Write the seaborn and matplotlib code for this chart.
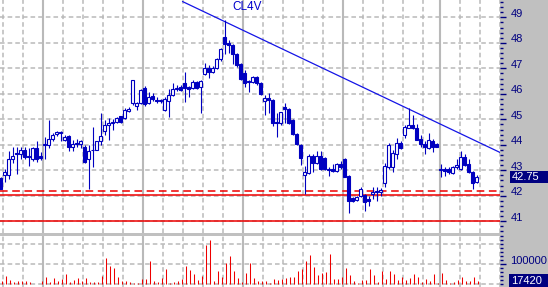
import numpy as np
import pandas as pd
import matplotlib
matplotlib.use("Agg")
import matplotlib.pyplot as plt
import seaborn as sns
from matplotlib.ticker import MultipleLocator
from matplotlib.transforms import ScaledTranslation, blended_transform_factory
from matplotlib.patches import Rectangle

# ---------------- data ----------------
opens = [42.68, 42.80, 42.80, 43.46, 43.66, 43.62, 43.78, 43.58, 43.46, 43.89,
         43.58, 43.99, 44.01, 44.24, 44.44, 44.52, 44.17, 44.36, 43.93, 44.09,
         44.05, 43.93, 43.43, 43.78, 43.81, 44.13, 44.56, 44.79, 44.87, 44.91,
         45.14, 45.06, 45.34, 45.65, 45.53, 45.65, 46.23, 45.65, 45.92, 45.76,
         45.73, 45.37, 45.73, 45.96, 46.19, 46.27, 46.43, 46.27, 46.23, 46.47,
         46.27, 46.78, 47.01, 46.86, 47.01, 47.36, 48.22, 47.99, 47.91, 47.56,
         47.17, 46.82, 46.49, 46.47, 46.66, 46.43, 45.73, 45.84, 45.76, 44.91,
         44.87, 45.49, 45.41, 44.98, 44.44, 44.01, 42.80, 42.88, 43.58, 43.27,
         43.58, 43.50, 43.07, 43.04, 42.96, 43.23, 43.43, 42.76, 41.90, 41.83,
         41.98, 42.02, 41.87, 42.06, 42.18, 42.14, 42.49, 43.11, 43.11, 43.62,
         44.09, 44.40, 44.67, 44.79, 44.67, 44.24, 44.05, 43.89, 44.13, 44.05,
         43.04, 43.04, 43.04, 42.88, 43.11, 43.07, 43.54, 43.23, 42.92, 42.53]
highs = [42.72, 43.04, 43.74, 43.93, 43.93, 43.93, 43.93, 43.89, 43.93, 44.13,
         43.70, 44.32, 44.98, 44.48, 44.56, 44.56, 44.40, 44.40, 44.20, 44.24,
         44.20, 44.01, 44.01, 44.71, 44.13, 45.26, 44.98, 45.06, 45.02, 45.10,
         45.14, 45.45, 45.49, 46.54, 45.69, 46.19, 46.31, 46.08, 46.04, 45.88,
         45.80, 45.88, 46.20, 46.43, 46.35, 46.35, 46.86, 46.31, 46.54, 46.51,
         46.54, 47.21, 47.13, 47.09, 47.40, 47.79, 48.88, 48.10, 47.95, 47.60,
         47.21, 46.93, 46.54, 46.70, 46.70, 46.47, 45.96, 46.04, 45.80, 45.26,
         45.30, 45.65, 45.45, 45.02, 44.48, 44.05, 43.15, 43.62, 43.62, 43.74,
         43.74, 43.54, 43.11, 43.23, 43.27, 43.35, 43.50, 42.80, 41.94, 41.98,
         42.33, 42.06, 41.98, 42.33, 42.33, 42.29, 43.27, 44.09, 43.81, 44.28,
         44.13, 44.79, 45.45, 45.18, 44.83, 44.40, 44.13, 44.48, 44.24, 44.09,
         43.23, 43.11, 43.11, 43.15, 43.43, 43.74, 43.62, 43.43, 42.96, 42.80]
lows = [42.26, 42.53, 42.65, 43.27, 42.84, 43.43, 43.46, 43.15, 43.35, 43.31,
        43.39, 43.43, 43.89, 44.13, 44.36, 44.13, 44.13, 43.74, 43.74, 43.93,
        43.89, 43.27, 42.26, 43.11, 43.78, 44.01, 44.40, 44.20, 44.59, 44.87,
        44.87, 45.02, 45.30, 45.57, 45.37, 45.61, 45.53, 45.61, 45.73, 45.65,
        45.65, 45.34, 45.10, 45.92, 46.12, 46.12, 45.69, 45.88, 46.19, 46.19,
        45.26, 46.74, 46.62, 46.82, 46.97, 47.28, 47.56, 47.60, 47.17, 47.05,
        46.54, 46.27, 46.08, 46.43, 46.35, 45.96, 45.18, 45.26, 44.75, 44.32,
        44.79, 44.87, 44.83, 44.40, 44.01, 43.19, 42.06, 42.84, 42.92, 43.23,
        43.00, 43.00, 42.76, 42.92, 42.92, 43.04, 42.72, 41.32, 41.75, 41.79,
        41.94, 41.40, 41.59, 41.87, 41.79, 41.98, 42.33, 43.04, 42.92, 43.43,
        43.85, 44.28, 44.67, 44.63, 44.20, 43.93, 43.62, 43.85, 43.70, 43.93,
        42.72, 42.76, 42.84, 42.84, 43.04, 43.00, 43.15, 42.88, 42.26, 42.49]
closes = [42.26, 42.92, 43.46, 43.58, 43.62, 43.81, 43.54, 43.54, 43.89, 43.46,
          43.50, 44.01, 44.24, 44.40, 44.52, 44.48, 44.32, 43.93, 44.05, 44.05,
          44.13, 43.31, 43.74, 43.81, 44.13, 44.36, 44.79, 44.87, 44.91, 45.06,
          44.91, 45.37, 45.41, 46.54, 45.65, 46.15, 45.61, 45.88, 45.80, 45.73,
          45.76, 45.80, 45.96, 46.19, 46.23, 46.15, 46.23, 46.19, 46.47, 46.23,
          46.51, 47.01, 46.86, 47.01, 47.36, 47.75, 47.95, 47.91, 47.56, 47.13,
          46.58, 46.43, 46.45, 46.66, 46.43, 46.00, 45.84, 45.76, 44.87, 44.87,
          45.30, 45.41, 44.87, 44.44, 44.05, 43.50, 42.92, 43.58, 43.27, 43.58,
          43.04, 43.04, 43.00, 42.96, 43.23, 43.11, 42.72, 41.79, 41.79, 41.94,
          42.26, 41.75, 41.79, 42.14, 42.14, 42.22, 43.15, 44.01, 43.66, 44.09,
          43.89, 44.71, 44.79, 44.67, 44.20, 44.05, 43.93, 44.20, 43.93, 43.93,
          43.00, 42.96, 42.92, 43.11, 43.19, 43.54, 43.19, 42.92, 42.49, 42.75]
volumes = [15000, 40000, 20000, 10000, 15000, 15000, 15000, 10000, 0, 0,
           15000, 35000, 10000, 30000, 15000, 25000, 50000, 10000, 20000, 30000,
           15000, 30000, 10000, 10000, 10000, 40000, 130000, 90000, 80000, 35000,
           15000, 15000, 10000, 5000, 5000, 25000, 25000, 115000, 15000, 10000,
           30000, 75000, 5000, 10000, 15000, 25000, 90000, 70000, 50000, 20000,
           40000, 195000, 220000, 15000, 65000, 35000, 105000, 140000, 65000, 30000,
           10000, 55000, 105000, 30000, 15000, 15000, 15000, 5000, 25000, 20000,
           25000, 30000, 35000, 35000, 65000, 75000, 115000, 145000, 85000, 45000,
           55000, 60000, 150000, 25000, 25000, 35000, 80000, 45000, 15000, 5000,
           20000, 20000, 75000, 45000, 10000, 65000, 25000, 65000, 50000, 20000,
           35000, 20000, 30000, 50000, 35000, 10000, 25000, 15000, 50000, 5000,
           55000, 20000, 5000, 10000, 20000, 35000, 15000, 15000, 35000, 17420]

title = "CL4V"
price_ticks = [41, 42, 43, 44, 45, 46, 47, 48, 49]
volume_ticks = [100000]
volume_grid = [0, 100000, 200000]
week_lines = [0.68, 5.68, 15.7, 20.7, 25.7, 30.7, 40.7, 45.7, 50.7, 55.7,
              65.7, 70.7, 75.7, 80.7, 90.7, 95.7, 100.7, 105.7, 114.75, 119.75, 124.75]
month_lines = [10.7, 35.7, 60.7, 85.7, 109.75]
support_lines = [42.03, 41.0]
signal_line = 42.18
trend_x = [45.5, 124.875]
trend_y = [49.62, 43.70]

# ---------------- style ----------------
sns.set_style("white")
plt.rcParams['font.family'] = ['Liberation Sans', 'DejaVu Sans']

BLUE = '#0000c0'
TREND = '#1414e6'
NAVY = '#000080'
GRID = '#b9b9b9'
RED = '#ee0000'
PANEL = '#c0c0c0'

df = pd.DataFrame(dict(i=np.arange(len(closes)), open=opens, high=highs,
                       low=lows, close=closes, volume=volumes))

W, H = 548, 287
fig = plt.figure(figsize=(W / 100, H / 100), dpi=100, facecolor=PANEL)
ax = fig.add_axes([0, (H - 233) / H, 500 / W, 233 / H])
axv = fig.add_axes([0, 0, 500 / W, 51 / H])

for a in (ax, axv):
    a.set_facecolor('white')
    for s in a.spines.values():
        s.set_visible(False)
    a.set_xlim(-0.125, 124.875)
    for x in week_lines:
        a.axvline(x, color=GRID, lw=1.1, ls=(0, (3, 2)), zorder=0)
    for x in month_lines:
        a.axvline(x, color=GRID, lw=1.5, zorder=0)
    a.set_xticks([])
    a.grid(False)

ax.set_ylim(40.54, 49.68)
axv.set_ylim(-15000, 240000)

for p in price_ticks:
    ax.axhline(p, color=GRID, lw=1.1, ls=(0, (3, 2)), zorder=0)
for v in volume_grid:
    axv.axhline(v, color=GRID, lw=1.1, ls=(0, (3, 2)), zorder=0)

# support / resistance lines
for p in support_lines:
    ax.axhline(p, color=RED, lw=1.1, zorder=1)
ax.axhline(signal_line, color=RED, lw=1.1, ls=(0, (5, 3)), zorder=1)

# trend line
sns.lineplot(x=trend_x, y=trend_y, ax=ax, color=TREND, lw=0.9, zorder=2)

# candles
up = df.close >= df.open
bottom = np.minimum(df.open, df.close)
height = np.maximum((df.close - df.open).abs(), 0.035)
ax.vlines(df.i, df.low, df.high, color=BLUE, lw=0.8, zorder=3)
ax.bar(df.i[up], height[up], bottom=bottom[up], width=0.55,
       facecolor='white', edgecolor=BLUE, lw=0.8, zorder=4)
ax.bar(df.i[~up], height[~up], bottom=bottom[~up], width=0.55,
       facecolor=BLUE, edgecolor=BLUE, lw=0.8, zorder=4)

ax.text(0.494, 0.968, title, transform=ax.transAxes, ha='center', va='center',
        color='#0000cc', fontsize=8.5)

# volume
axv.vlines(df.i + 0.25, 0, df.volume, color=RED, lw=0.75, zorder=3)

# ---------------- right axes ----------------
ax.yaxis.tick_right()
ax.set_yticks(price_ticks)
ax.set_yticklabels([str(p) for p in price_ticks])
ax.yaxis.set_minor_locator(MultipleLocator(0.2))
axv.yaxis.tick_right()
axv.set_yticks(volume_ticks)
axv.set_yticklabels([str(v) for v in volume_ticks])
axv.yaxis.set_minor_locator(MultipleLocator(20000))
for a in (ax, axv):
    a.tick_params(axis='y', which='major', direction='out', length=4.5, width=1.0,
                  color=NAVY, labelcolor=NAVY, labelsize=8.0, pad=3.0,
                  left=False, right=True, labelleft=False, labelright=True)
    a.tick_params(axis='y', which='minor', direction='out', length=2.2, width=1.0,
                  color=NAVY, left=False, right=True)
    a.tick_params(axis='x', which='both', bottom=False, top=False)

offset = ScaledTranslation(0, 0.045, fig.dpi_scale_trans)
for a in (ax, axv):
    for t in a.yaxis.get_major_ticks():
        t.label2.set_transform(t.label2.get_transform() + offset)

# last-value boxes
bt = blended_transform_factory(ax.transAxes, ax.transData)
ax.add_patch(Rectangle((1.02, closes[-1] - 0.23), 0.1, 0.46, transform=bt,
                       facecolor=NAVY, edgecolor='none', clip_on=False, zorder=5))
ax.text(1.024, closes[-1], f"{closes[-1]:.2f}", transform=bt, color='white',
        fontsize=8.0, ha='left', va='center', clip_on=False, zorder=6)

btv = blended_transform_factory(axv.transAxes, axv.transData)
axv.add_patch(Rectangle((1.018, volumes[-1] - 32500), 0.1, 65000, transform=btv,
                        facecolor=NAVY, edgecolor='none', clip_on=False, zorder=5))
axv.text(1.022, volumes[-1], f"{volumes[-1]}", transform=btv, color='white',
         fontsize=8.0, ha='left', va='center', clip_on=False, zorder=6)

fig.savefig("out.png", dpi=100, facecolor=PANEL)
